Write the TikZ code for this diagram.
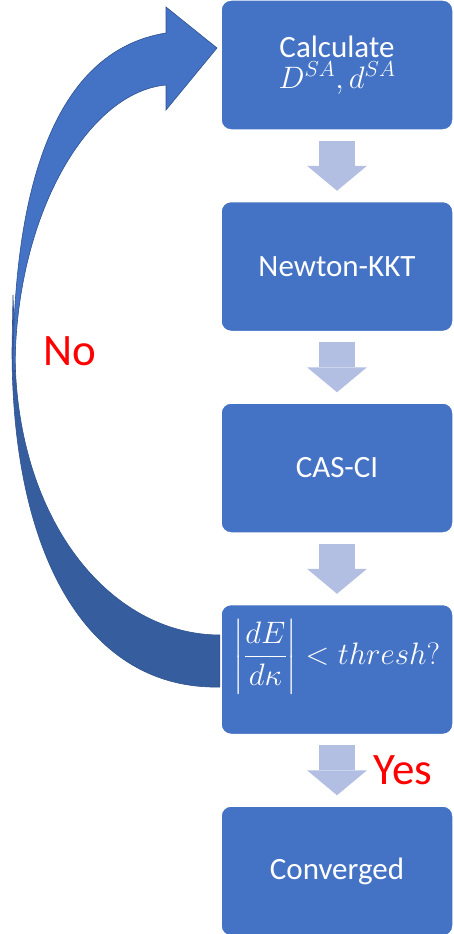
\RequirePackage{fix-cm}
\documentclass[tikz,border=0pt]{standalone}
\usepackage{amsmath,amssymb}
\usepackage{fontspec}
\setmainfont{Carlito}
\usepackage{xcolor}
\usetikzlibrary{arrows.meta,positioning,calc}

\definecolor{boxblue}{RGB}{68,114,196}
\definecolor{flowblue}{RGB}{178,191,226}
\definecolor{bandback}{RGB}{54,94,158}
\definecolor{bandline}{RGB}{47,82,143}

\begin{document}
\begin{tikzpicture}[x=1pt,y=-1pt,
		stepbox/.style={draw=white, line width=1.5pt, fill=boxblue, rounded corners=10pt,
			minimum width=232pt, minimum height=130pt, text=white, align=center,
			font=\fontsize{31}{33}\selectfont},
		flow/.style={draw=flowblue, line width=36pt, shorten <=10pt, shorten >=10pt,
			-{Triangle[length=25pt,width=60pt,line width=0pt]}},
		answer/.style={text=red, anchor=base, font=\fontsize{45}{50}\selectfont}]
		\useasboundingbox (0,0) rectangle (454,934);

		% loop back (No)
		\filldraw[fill=bandback, draw=bandline, line width=0.6pt]
			(220,687) .. controls (90,690) and (12,560) .. (12,350) -- (13,295) -- (15,350)
			.. controls (15,520) and (110,635) .. (220,635) -- cycle;
		\filldraw[fill=boxblue, draw=bandline, line width=0.6pt]
			(13,372) .. controls (13,175) and (60,50) .. (166,33) -- (166,7) -- (217,48)
			-- (166,110) -- (166,85) .. controls (88,92) and (15,215) .. (15,370) -- cycle;

		% steps
		\node[stepbox] (calc) at (337,65) {Calculate\\[-2pt]$D^{SA}, d^{SA}$};
		\node[stepbox, below=70pt of calc] (newton) {Newton-KKT};
		\node[stepbox, below=70pt of newton] (casci) {CAS-CI};
		\node[stepbox, below=70pt of casci] (check)
			{\raisebox{5pt}[0pt][0pt]{$\left|\dfrac{dE}{d\kappa}\right| < thresh?$}};
		\node[stepbox, below=70pt of check] (conv) {Converged};

		\draw[flow] (calc) -- (newton);
		\draw[flow] (newton) -- (casci);
		\draw[flow] (casci) -- (check);
		\draw[flow] (check) -- (conv);

		\node[answer] (no) at (70,365) {No};
		\node[answer] (yes) at (403,784) {Yes};
	\end{tikzpicture}
\end{document}
